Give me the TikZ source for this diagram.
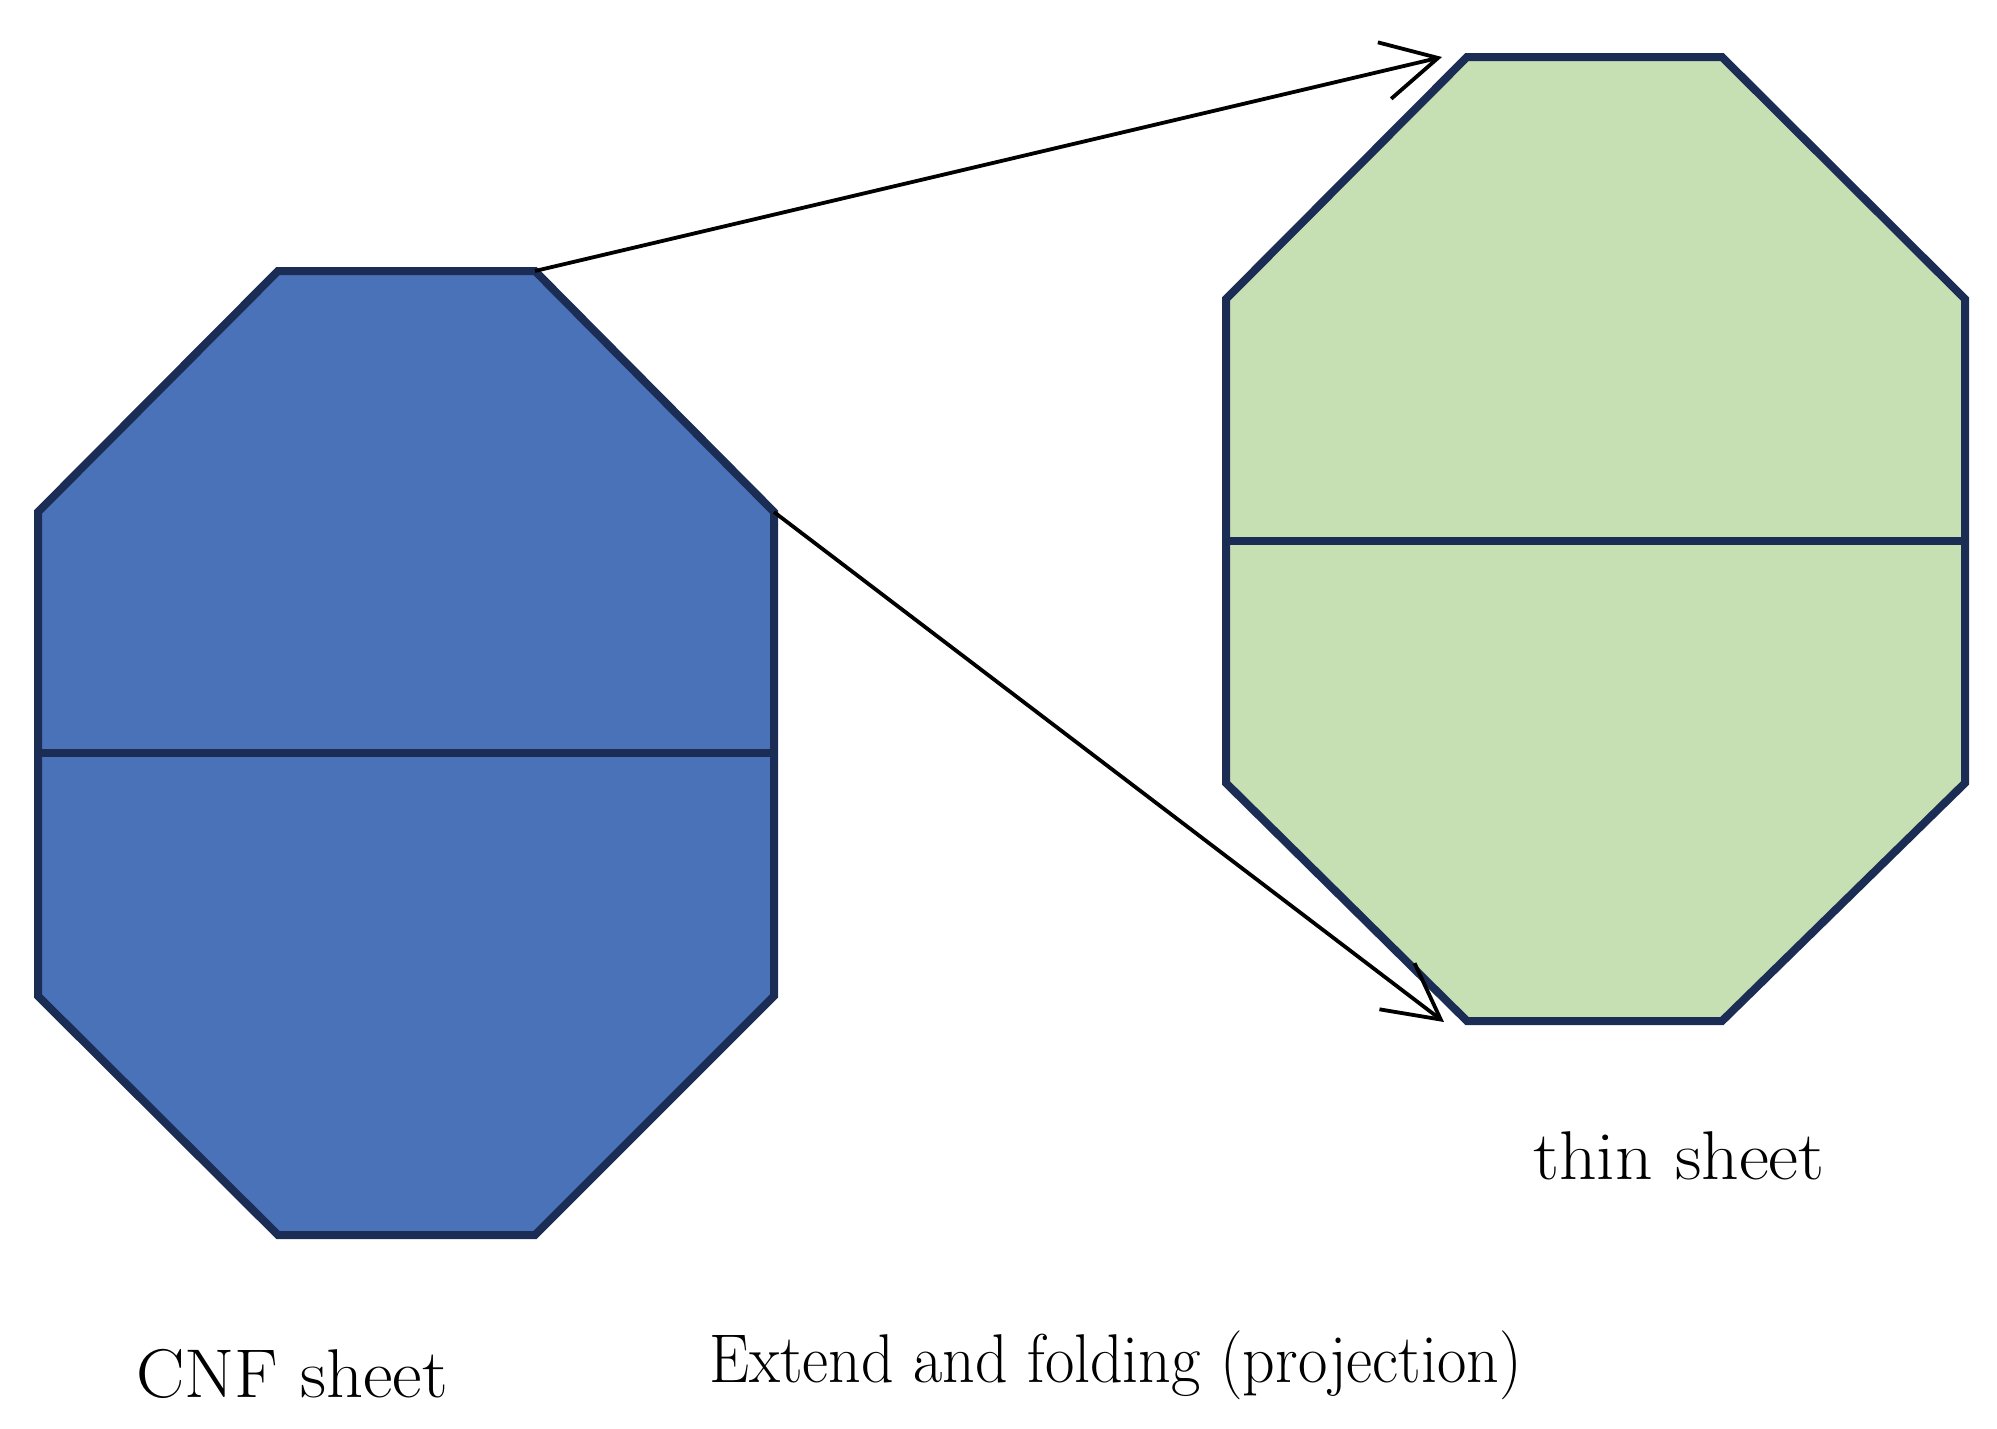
\documentclass[tikz,border=0pt]{standalone}
\usetikzlibrary{arrows.meta}
\definecolor{cnfblue}{HTML}{4A72B8}
\definecolor{edgeblue}{HTML}{1B2D54}
\definecolor{thingreen}{HTML}{C6E0B4}
\begin{document}
\begin{tikzpicture}[x=1pt,y=-1pt,
  sheet/.style={line width=8pt, draw=edgeblue, line join=miter},
  proj/.style={line width=3.8pt, -{Straight Barb[length=55pt,width=58pt,line width=3.8pt]}},
  lbl/.style={font=\fontsize{69}{80}\selectfont, anchor=base west, inner sep=0pt}]
\useasboundingbox (0,0) rectangle (1997,1428);
% left octagon (CNF sheet)
\coordinate (L1) at (278,271);
\coordinate (L2) at (535,271);
\coordinate (L3) at (774,512);
\coordinate (L4) at (774,996);
\coordinate (L5) at (535,1235);
\coordinate (L6) at (278,1235);
\coordinate (L7) at (38,996);
\coordinate (L8) at (38,512);
\coordinate (Lm1) at (38,753);
\coordinate (Lm2) at (774,753);
\filldraw[sheet, fill=cnfblue] (L1)--(L2)--(L3)--(L4)--(L5)--(L6)--(L7)--(L8)--cycle;
\draw[sheet] (Lm1)--(Lm2);
% right octagon (thin sheet)
\coordinate (R1) at (1467,57);
\coordinate (R2) at (1722,57);
\coordinate (R3) at (1965,299);
\coordinate (R4) at (1965,783);
\coordinate (R5) at (1722,1021);
\coordinate (R6) at (1467,1021);
\coordinate (R7) at (1226,783);
\coordinate (R8) at (1226,299);
\coordinate (Rm1) at (1226,541);
\coordinate (Rm2) at (1965,541);
\filldraw[sheet, fill=thingreen] (R1)--(R2)--(R3)--(R4)--(R5)--(R6)--(R7)--(R8)--cycle;
\draw[sheet] (Rm1)--(Rm2);
% projection arrows
\coordinate (T1) at (1442,57);
\coordinate (T2) at (1444,1022);
\draw[proj] (L2) -- (T1);
\draw[proj] (L3) -- (T2);
% labels
\node[lbl] (cnf) at (136,1397) {\scalebox{1.05}[1]{CNF sheet}};
\node[lbl] (ext) at (709,1382) {\scalebox{0.926}[1]{Extend and folding (projection)}};
\node[lbl] (thin) at (1533,1179) {\scalebox{1.066}[1]{thin sheet}};
\end{tikzpicture}
\end{document}
